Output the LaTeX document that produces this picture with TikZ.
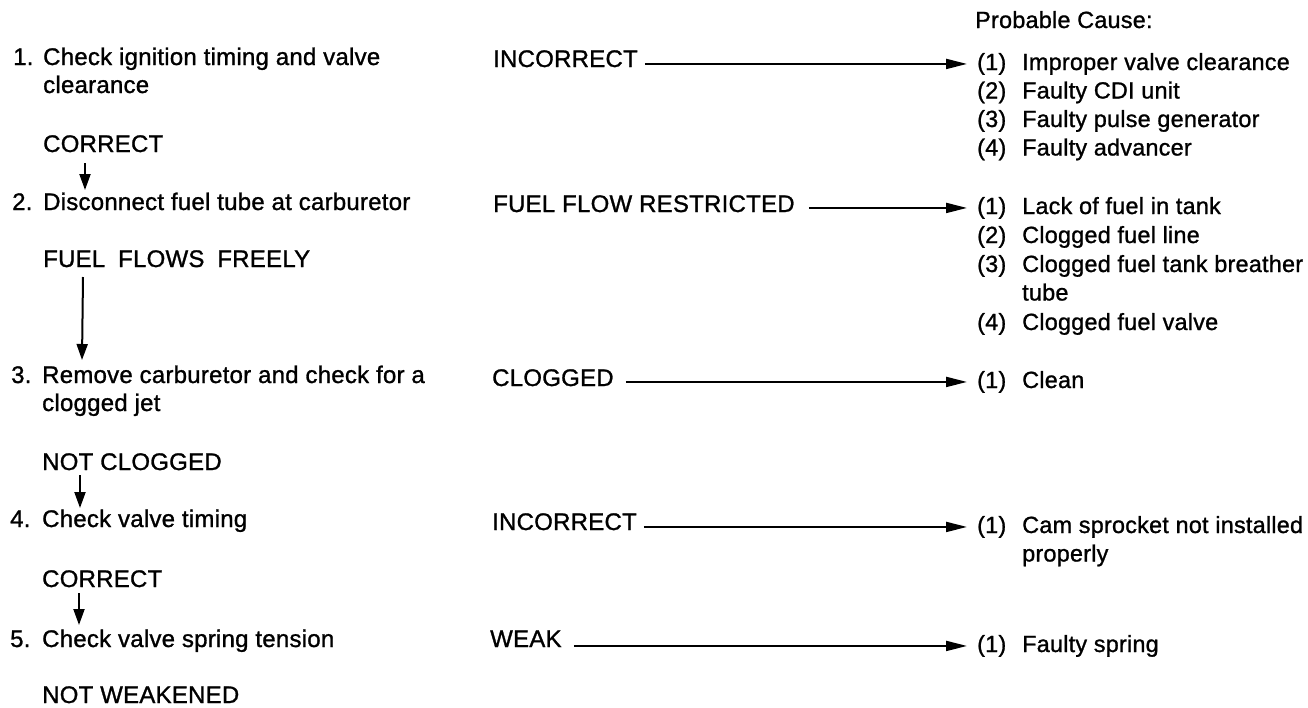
\documentclass[tikz,border=0pt]{standalone}
\usepackage{fontspec}
\setmainfont{Liberation Sans}[FakeBold=1.1,LetterSpace=1]
\usetikzlibrary{arrows.meta}
\newcommand{\mlines}[1]{\begin{tabular}[t]{@{}l@{}}#1\end{tabular}}
\tikzset{
  txt/.style={inner sep=0pt, anchor=base west, font=\fontsize{24}{28}\selectfont},
  rtxt/.style={inner sep=0pt, anchor=base west, font=\fontsize{23.4}{28.5}\selectfont},
  harrow/.style={line width=2pt, -{Triangle[length=21pt,width=10pt]}},
  varrow/.style={line width=2pt, -{Triangle[length=16pt,width=11pt]}}
}
\begin{document}
\begin{tikzpicture}[x=1pt,y=-1pt]
\useasboundingbox (0,0) rectangle (1308,707);
% left column
\node[txt] (n1) at (13,65) {1.};
\node[txt] (s1) at (43,65) {\mlines{Check ignition timing and valve\\clearance}};
\node[txt] (o1) at (43,152) {CORRECT};
\node[txt] (n2) at (12,210) {2.};
\node[txt] (s2) at (43,210) {Disconnect fuel tube at carburetor};
\node[txt] (o2) at (43,267) {FUEL\hspace{6pt} FLOWS\hspace{6pt} FREELY};
\node[txt] (n3) at (11,383) {3.};
\node[txt] (s3) at (42,383) {\mlines{Remove carburetor and check for a\\clogged jet}};
\node[txt] (o3) at (42,470) {NOT CLOGGED};
\node[txt] (n4) at (10,527) {4.};
\node[txt] (s4) at (42,527) {Check valve timing};
\node[txt] (o4) at (42,587) {CORRECT};
\node[txt] (n5) at (10,647) {5.};
\node[txt] (s5) at (42,647) {Check valve spring tension};
\node[txt] (o5) at (42,703) {NOT WEAKENED};
% middle column
\node[txt] (m1) at (493,67) {INCORRECT};
\node[txt] (m2) at (493,212) {FUEL FLOW RESTRICTED};
\node[txt] (m3) at (492,386) {CLOGGED};
\node[txt] (m4) at (492,530) {INCORRECT};
\node[txt] (m5) at (490,647) {WEAK};
% right column
\node[rtxt] (pc) at (975,28) {Probable Cause:};
\node[rtxt] (a1) at (977,70) {(1)};
\node[rtxt] (a2) at (977,98.5) {(2)};
\node[rtxt] (a3) at (977,127) {(3)};
\node[rtxt] (a4) at (977,155.5) {(4)};
\node[rtxt] (at1) at (1022,70) {Improper valve clearance};
\node[rtxt] (at2) at (1022,98.5) {Faulty CDI unit};
\node[rtxt] (at3) at (1022,127) {Faulty pulse generator};
\node[rtxt] (at4) at (1022,155.5) {Faulty advancer};
\node[rtxt] (b1) at (977,214) {(1)};
\node[rtxt] (b2) at (977,243) {(2)};
\node[rtxt] (b3) at (977,272) {(3)};
\node[rtxt] (b4) at (977,330) {(4)};
\node[rtxt] (bt1) at (1022,214) {Lack of fuel in tank};
\node[rtxt] (bt2) at (1022,243) {Clogged fuel line};
\node[rtxt] (bt3) at (1022,272) {\mlines{Clogged fuel tank breather\\tube}};
\node[rtxt] (bt4) at (1022,330) {Clogged fuel valve};
\node[rtxt] (c1) at (977,388) {(1)};
\node[rtxt] (ct1) at (1022,388) {Clean};
\node[rtxt] (d1) at (977,533) {(1)};
\node[rtxt] (dt1) at (1022,533) {\mlines{Cam sprocket not installed\\properly}};
\node[rtxt] (e1) at (977,652) {(1)};
\node[rtxt] (et1) at (1022,652) {Faulty spring};
% vertical arrows
\draw[varrow] ([xshift=42pt,yshift=-11pt]o1.base west) -- ([xshift=42pt,yshift=20pt]s2.base west);
\draw[varrow] ([xshift=40pt,yshift=-10pt]o2.base west) -- ([xshift=40pt,yshift=23pt]s3.base west);
\draw[varrow] ([xshift=38pt,yshift=-5pt]o3.base west) -- ([xshift=38pt,yshift=19pt]s4.base west);
\draw[varrow] ([xshift=37pt,yshift=-6pt]o4.base west) -- ([xshift=37pt,yshift=22pt]s5.base west);
% horizontal arrows
\draw[harrow] ([xshift=7pt]m1.east |- a1.west) -- ([xshift=-10pt]a1.west);
\draw[harrow] ([xshift=14pt]m2.east |- b1.west) -- ([xshift=-10pt]b1.west);
\draw[harrow] ([xshift=12pt]m3.east |- c1.west) -- ([xshift=-10pt]c1.west);
\draw[harrow] ([xshift=7pt]m4.east |- d1.west) -- ([xshift=-10pt]d1.west);
\draw[harrow] ([xshift=12pt]m5.east |- e1.west) -- ([xshift=-10pt]e1.west);
\end{tikzpicture}
\end{document}
